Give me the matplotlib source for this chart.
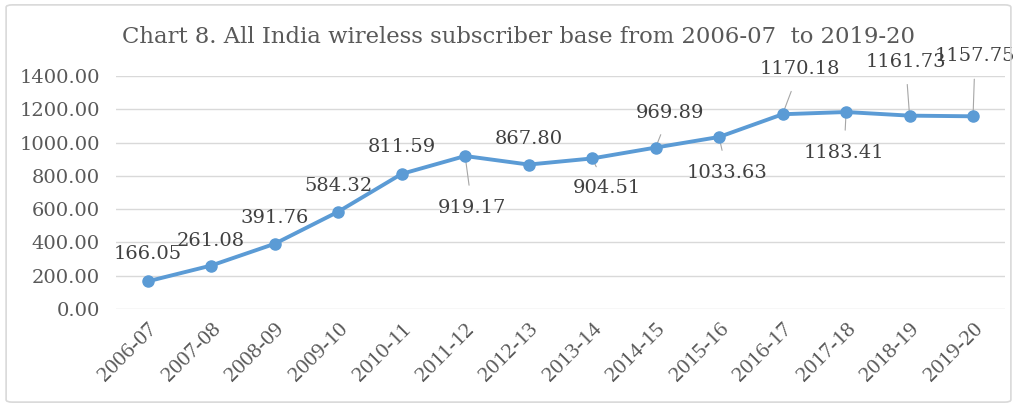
import matplotlib.pyplot as plt
from matplotlib.patches import FancyBboxPatch

years = ['2006-07', '2007-08', '2008-09', '2009-10', '2010-11', '2011-12', '2012-13',
         '2013-14', '2014-15', '2015-16', '2016-17', '2017-18', '2018-19', '2019-20']
subscribers = [166.05, 261.08, 391.76, 584.32, 811.59, 919.17, 867.80,
               904.51, 969.89, 1033.63, 1170.18, 1183.41, 1161.73, 1157.75]

# label offsets in pixels (dx, dy) and whether a leader line is drawn
label_offsets = [(0, 27), (0, 25), (0, 26), (0, 26), (0, 27), (7, -52), (0, 26),
                 (15, -30), (14, 35), (8, -36), (17, 45), (-2, -41), (-4, 54), (2, 60)]
leaders = [False, False, False, False, False, True, False,
           True, True, True, True, True, True, True]

fig = plt.figure(figsize=(10.17, 4.07), dpi=100)
ax = fig.add_axes([0.114, 0.2408, 0.874, 0.5725])

border = FancyBboxPatch((0.006, 0.012), 0.988, 0.976, boxstyle='round,pad=0,rounding_size=0.006',
                        transform=fig.transFigure, fill=False, edgecolor='#d9d9d9', linewidth=1.2)
fig.patches.append(border)

x = list(range(len(years)))
ax.plot(x, subscribers, color='#5b9bd5', linewidth=2.8, marker='o', markersize=8, zorder=3)

for i, v in enumerate(subscribers):
    dx, dy = label_offsets[i]
    ax.annotate(f'{v:.2f}', xy=(i, v), xytext=(dx, dy), textcoords='offset pixels',
                ha='center', va='center', fontsize=14, family='DejaVu Serif', color='#404040',
                arrowprops=dict(arrowstyle='-', color='#a6a6a6', lw=0.8, shrinkA=8, shrinkB=0)
                if leaders[i] else None, zorder=2)

ax.set_xlim(-0.5, len(years) - 0.5)
ax.set_ylim(0, 1400)
ax.set_yticks(range(0, 1401, 200))
ax.set_yticklabels([f'{t:.2f}' for t in range(0, 1401, 200)], family='DejaVu Serif',
                   fontsize=14, color='#595959')
ax.set_xticks(x)
ax.set_xticklabels(years, rotation=45, ha='right', rotation_mode='anchor',
                   family='Liberation Serif', fontsize=16, color='#595959')
ax.tick_params(axis='both', length=0)
ax.tick_params(axis='y', pad=11.5)
ax.tick_params(axis='x', pad=8)
ax.grid(axis='y', color='#d9d9d9', linewidth=1)
ax.set_axisbelow(True)
for s in ax.spines.values():
    s.set_visible(False)

fig.text(0.51, 0.91, 'Chart 8. All India wireless subscriber base from 2006-07  to 2019-20',
         ha='center', va='center', family='DejaVu Serif', fontsize=16.4, color='#595959')

fig.savefig('out.png', dpi=100)
